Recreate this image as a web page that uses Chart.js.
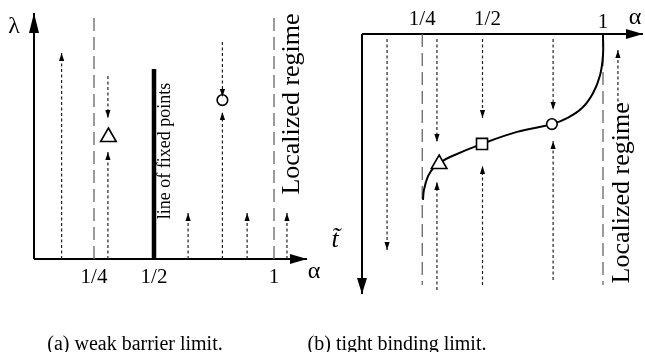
<!DOCTYPE html>
<html>
<head>
<meta charset="utf-8">
<script src="https://cdn.jsdelivr.net/npm/chart.js@4"></script>
<style>
body { margin: 0; background: #fff; width: 645px; height: 352px; position: relative; overflow: hidden; }
canvas { position: absolute; top: 0; }
#left { left: 0; }
#right { left: 322px; }
.cap { position: absolute; top: 332px; font: 20px "Liberation Serif", serif; white-space: nowrap; transform: translateX(-50%); }
</style>
</head>
<body>
<canvas id="left" width="322" height="352"></canvas>
<canvas id="right" width="323" height="352"></canvas>
<div class="cap" style="left:135px">(a) weak barrier limit.</div>
<div class="cap" style="left:397px">(b) tight binding limit.</div>
<script>
// (a) weak barrier limit : alpha vs lambda
var ticksA = [0.25, 0.5, 1];
var tickLabelsA = ['1/4', '1/2', '1'];
var regimeA = [0.25, 1];                 // dashed verticals
var fixedLineA = [0, 0.772];             // lambda span of the line of fixed points (alpha = 1/2)
var flowAlphaA = [0.115, 0.308, 0.308, 0.642, 0.785, 0.785, 0.888, 1.054];
var flowFromA  = [0,     0.744, 0,     0,     0.882, 0,     0,     0];
var flowToA    = [0.837, 0.573, 0.435, 0.187, 0.659, 0.598, 0.187, 0.187];
var markAlphaA = [0.31, 0.785];
var markLamA   = [0.496, 0.646];
var markStyleA = ['triangle', 'circle'];

// (b) tight binding limit : alpha vs t (downwards)
var ticksB = [0.25, 0.5, 1];
var tickLabelsB = ['1/4', '1/2', '1'];
var regimeB = [0.25, 1];
var flowAlphaB = [0.104, 0.311, 0.311, 0.5,  0.5,   0.793, 0.793, 1.062];
var flowFromB  = [0.02,  0.02,  1.02,  0.02, 1.0,   0.02,  0.98,  0.291];
var flowToB    = [0.861, 0.43,  0.59,  0.335, 0.526, 0.303, 0.426, 0.064];
var curveAlphaB = [0.253, 0.257, 0.274, 0.299, 0.32, 0.365, 0.498, 0.643, 0.788, 0.851, 0.913, 0.959, 0.988, 1.0, 1.0];
var curveTB     = [0.661, 0.622, 0.566, 0.530, 0.514, 0.49, 0.438, 0.39, 0.359, 0.335, 0.295, 0.235, 0.163, 0.084, 0];
var markAlphaB = [0.32, 0.498, 0.788];
var markTB     = [0.518, 0.438, 0.359];
var markStyleB = ['triangle', 'rect', 'circle'];

var serif = '"Liberation Serif", serif';

function line(x0, y0, x1, y1, color, width, dash, head) {
    return {
        data: [{x: x0, y: y0}, {x: x1, y: y1}],
        showLine: true,
        pointRadius: 0,
        borderColor: color,
        borderWidth: width,
        borderDash: dash || [],
        head: head,
        order: 5
    };
}

function flows(alpha, from, to) {
    return alpha.map(function (a, i) {
        return line(a, from[i], a, to[i], '#222', 1.2, [3, 2.5], [8, 2.6]);
    });
}

function markers(alpha, val, style) {
    return alpha.map(function (a, i) {
        var r = style[i] == 'triangle' ? 9 : (style[i] == 'rect' ? 7.8 : 5.3);
        return {
            data: [{x: a, y: val[i]}],
            pointStyle: style[i],
            pointRadius: r,
            pointBorderWidth: 1.6,
            pointBorderColor: '#000',
            pointBackgroundColor: '#fff',
            order: 0
        };
    });
}

var arrowHeads = {
    id: 'arrowHeads',
    afterDatasetsDraw: function (chart) {
        var ctx = chart.ctx;
        chart.data.datasets.forEach(function (ds, i) {
            if (!ds.head) return;
            var pts = chart.getDatasetMeta(i).data;
            var a = pts[pts.length - 2], b = pts[pts.length - 1];
            var ang = Math.atan2(b.y - a.y, b.x - a.x);
            ctx.save();
            ctx.translate(b.x, b.y);
            ctx.rotate(ang);
            ctx.beginPath();
            ctx.moveTo(0, 0);
            ctx.lineTo(-ds.head[0], ds.head[1]);
            ctx.lineTo(-ds.head[0], -ds.head[1]);
            ctx.closePath();
            ctx.fillStyle = '#000';
            ctx.fill();
            ctx.restore();
        });
    }
};

function texts(items) {
    return {
        id: 'texts',
        afterDraw: function (chart) {
            var ctx = chart.ctx, sx = chart.scales.x, sy = chart.scales.y;
            items.forEach(function (t) {
                ctx.save();
                ctx.font = t.font;
                ctx.fillStyle = '#000';
                ctx.textAlign = 'center';
                ctx.textBaseline = 'middle';
                ctx.translate(sx.getPixelForValue(t.x) + (t.dx || 0), sy.getPixelForValue(t.y) + (t.dy || 0));
                if (t.rot) ctx.rotate(t.rot);
                ctx.fillText(t.text, 0, 0);
                ctx.restore();
            });
        }
    };
}

function baseOptions(xmin, xmax, ymin, ymax, reverse) {
    return {
        responsive: false,
        animation: false,
        layout: {padding: 0, autoPadding: false},
        plugins: {legend: {display: false}, tooltip: {enabled: false}},
        elements: {line: {fill: false}},
        datasets: {scatter: {clip: false}},
        scales: {
            x: {type: 'linear', display: false, min: xmin, max: xmax},
            y: {type: 'linear', display: false, min: ymin, max: ymax, reverse: reverse}
        }
    };
}

// ---- panel (a)
var dsA = markers(markAlphaA, markLamA, markStyleA)
    .concat(flows(flowAlphaA, flowFromA, flowToA))
    .concat(regimeA.map(function (a) { return line(a, 0, a, 1.004, '#666', 1.3, [13, 6]); }))
    .concat([
        line(0.5, fixedLineA[0], 0.5, fixedLineA[1], '#000', 4.5),
        line(0, 0, 0, 1, '#000', 2, [], [20, 5]),
        line(0, 0, 1.1375, 0, '#000', 2, [], [17, 5])
    ]);

var txtA = ticksA.map(function (a, i) {
    return {x: a, y: 0, dy: 18, text: tickLabelsA[i], font: '21px ' + serif};
}).concat([
    {x: -0.083, y: 0.943, text: 'λ', font: '24px ' + serif},
    {x: 1.167, y: -0.053, text: 'α', font: '24px ' + serif},
    {x: 0.546, y: 0.439, text: 'line of fixed points', font: '18px ' + serif, rot: -Math.PI / 2},
    {x: 1.075, y: 0.63, text: 'Localized regime', font: '26px ' + serif, rot: -Math.PI / 2}
]);

new Chart(document.getElementById('left').getContext('2d'), {
    type: 'scatter',
    data: {datasets: dsA},
    options: baseOptions(-34 / 240, 288 / 240, -93 / 246, 259 / 246, false),
    plugins: [arrowHeads, texts(txtA)]
});

// ---- panel (b)
var curveB = {
    data: curveAlphaB.map(function (a, i) { return {x: a, y: curveTB[i]}; }),
    showLine: true,
    pointRadius: 0,
    borderColor: '#000',
    borderWidth: 2,
    tension: 0.4,
    order: 2
};

var dsB = markers(markAlphaB, markTB, markStyleB)
    .concat([curveB])
    .concat(flows(flowAlphaB, flowFromB, flowToB))
    .concat(regimeB.map(function (a) { return line(a, 0, a, 1.0, '#666', 1.3, [13, 6]); }))
    .concat([
        line(0, 0, 0, 1.036, '#000', 2, [], [16, 5]),
        line(0, 0, 1.166, 0, '#000', 2, [], [17, 5])
    ]);

var txtB = ticksB.map(function (a, i) {
    return {x: a, y: 0, dx: i == 1 ? 5 : 0, dy: i == 2 ? -12 : -15, text: tickLabelsB[i], font: '21px ' + serif};
}).concat([
    {x: 1.133, y: -0.064, text: 'α', font: '24px ' + serif},
    {x: -0.112, y: 0.82, text: 't\u0303', font: 'italic 26px ' + serif},
    {x: 1.079, y: 0.633, text: 'Localized regime', font: '26px ' + serif, rot: -Math.PI / 2}
]);

new Chart(document.getElementById('right').getContext('2d'), {
    type: 'scatter',
    data: {datasets: dsB},
    options: baseOptions(-40 / 241, 283 / 241, -34 / 251, 318 / 251, true),
    plugins: [arrowHeads, texts(txtB)]
});
</script>
</body>
</html>
